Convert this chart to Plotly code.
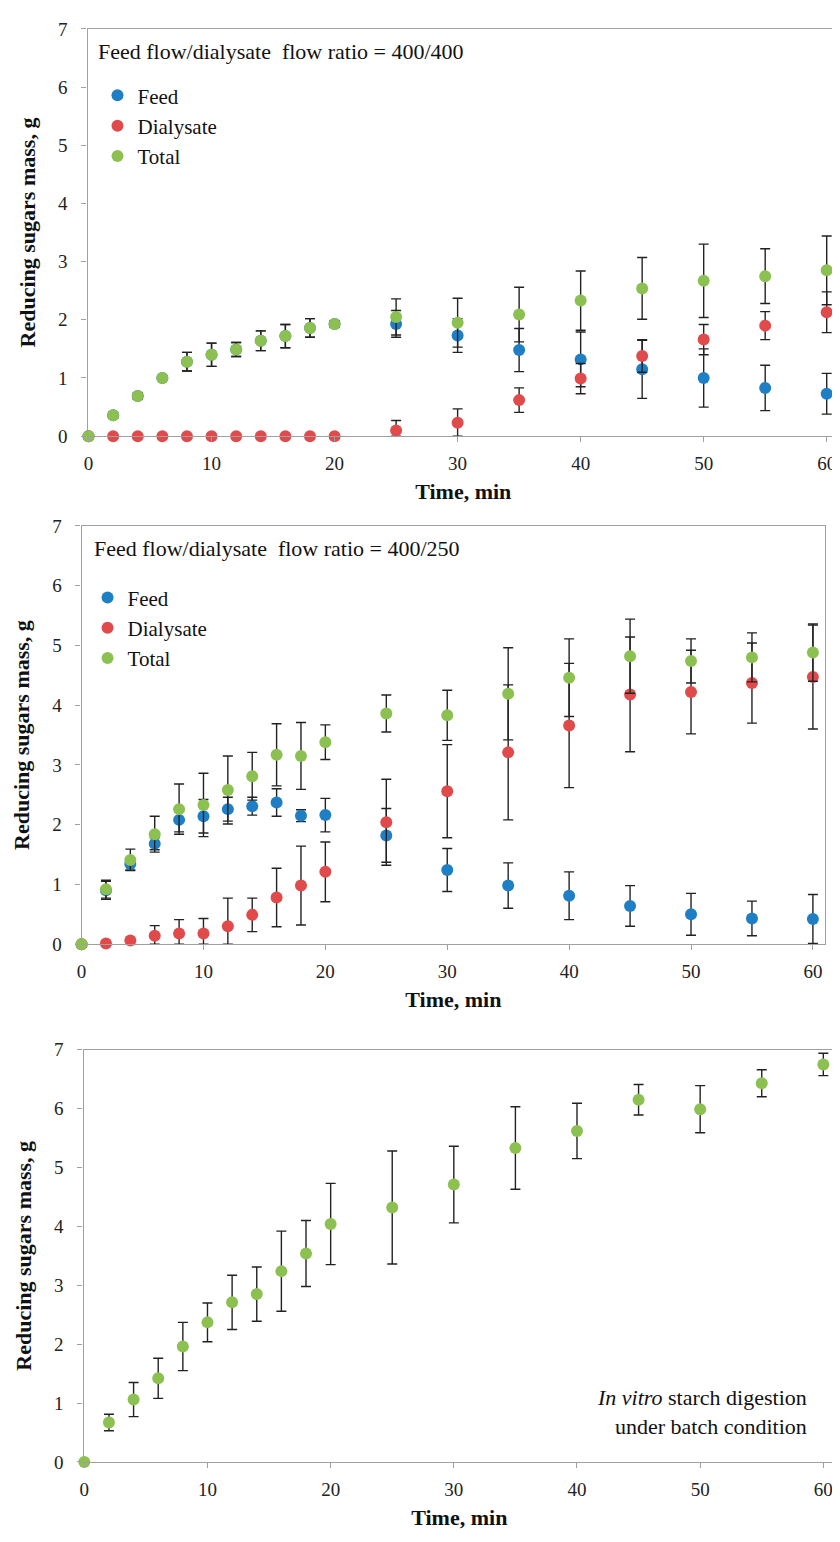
import plotly.graph_objects as go

# ---------------- data ----------------
time_min = [0, 2, 4, 6, 8, 10, 12, 14, 16, 18, 20, 25, 30, 35, 40, 45, 50, 55, 60]

# Panel A: ratio 400/400
a_feed = [0, 0.36, 0.69, 1.00, 1.28, 1.40, 1.49, 1.64, 1.72, 1.86, 1.93, 1.93, 1.73, 1.48, 1.32, 1.15, 1.00, 0.83, 0.73]
a_feed_err = [0, 0.05, 0.05, 0.03, 0.16, 0.20, 0.12, 0.17, 0.20, 0.16, 0.05, 0.23, 0.29, 0.37, 0.47, 0.50, 0.50, 0.39, 0.35]
a_dial = [0, 0, 0, 0, 0, 0, 0, 0, 0, 0, 0, 0.10, 0.23, 0.62, 0.99, 1.38, 1.66, 1.90, 2.13]
a_dial_err = [0, 0, 0, 0, 0, 0, 0, 0, 0, 0, 0, 0.17, 0.24, 0.21, 0.26, 0.28, 0.26, 0.24, 0.35]
a_total = [0, 0.36, 0.69, 1.00, 1.28, 1.40, 1.49, 1.64, 1.72, 1.86, 1.93, 2.05, 1.95, 2.09, 2.33, 2.54, 2.67, 2.75, 2.85]
a_total_err = [0, 0.05, 0.05, 0.03, 0.16, 0.20, 0.12, 0.17, 0.20, 0.16, 0.05, 0.31, 0.42, 0.47, 0.51, 0.53, 0.63, 0.47, 0.59]

# Panel B: ratio 400/250
b_feed = [0, 0.90, 1.34, 1.68, 2.08, 2.14, 2.26, 2.31, 2.37, 2.15, 2.16, 1.82, 1.24, 0.98, 0.81, 0.64, 0.50, 0.43, 0.42]
b_feed_err = [0, 0.15, 0.10, 0.10, 0.20, 0.28, 0.20, 0.15, 0.23, 0.10, 0.28, 0.45, 0.36, 0.38, 0.40, 0.34, 0.35, 0.29, 0.41]
b_dial = [0, 0.01, 0.06, 0.14, 0.18, 0.18, 0.30, 0.49, 0.78, 0.98, 1.21, 2.04, 2.56, 3.21, 3.66, 4.18, 4.22, 4.37, 4.47]
b_dial_err = [0, 0, 0, 0.17, 0.23, 0.25, 0.47, 0.28, 0.49, 0.66, 0.50, 0.72, 0.78, 1.13, 1.04, 0.96, 0.70, 0.67, 0.87]
b_total = [0, 0.92, 1.41, 1.84, 2.26, 2.33, 2.58, 2.81, 3.17, 3.15, 3.38, 3.86, 3.83, 4.19, 4.46, 4.82, 4.74, 4.80, 4.88]
b_total_err = [0, 0.15, 0.18, 0.30, 0.42, 0.53, 0.57, 0.40, 0.52, 0.56, 0.29, 0.31, 0.42, 0.77, 0.65, 0.62, 0.37, 0.41, 0.48]

# Panel C: batch in vitro digestion
c_total = [0, 0.67, 1.06, 1.42, 1.96, 2.37, 2.71, 2.85, 3.24, 3.54, 4.04, 4.32, 4.71, 5.33, 5.62, 6.15, 5.99, 6.43, 6.75]
c_total_err = [0, 0.14, 0.29, 0.34, 0.41, 0.33, 0.46, 0.46, 0.68, 0.56, 0.69, 0.96, 0.65, 0.70, 0.47, 0.26, 0.40, 0.23, 0.19]

x_ticks = [0, 10, 20, 30, 40, 50, 60]
y_ticks = [0, 1, 2, 3, 4, 5, 6, 7]

colors = {"Feed": "#1f7fc4", "Dialysate": "#e04a4a", "Total": "#8cc152"}

FONT = "Liberation Serif, Times New Roman, serif"
# page body has an 8px default margin: figure is sized so it fits the 840x1542 window
OFF = 8
W, H = 840 - OFF, 1542 - OFF


def px(x):
    return (x - OFF) / W


def py(y):
    return 1 - (y - OFF) / H


fig = go.Figure()


def add_series(y, err, name, xa, ya, legend, show):
    minus = [min(e, v) for e, v in zip(err, y)]
    fig.add_trace(go.Scatter(
        x=time_min, y=y, mode="markers", name=name,
        marker=dict(color=colors[name], size=12),
        error_y=dict(type="data", array=err, arrayminus=minus, symmetric=False,
                     color="#222222", thickness=1.4, width=5),
        xaxis=xa, yaxis=ya, legend=legend, showlegend=show, cliponaxis=False,
    ))


for y, e, n in [(a_feed, a_feed_err, "Feed"), (a_dial, a_dial_err, "Dialysate"), (a_total, a_total_err, "Total")]:
    add_series(y, e, n, "x", "y", "legend", True)
for y, e, n in [(b_feed, b_feed_err, "Feed"), (b_dial, b_dial_err, "Dialysate"), (b_total, b_total_err, "Total")]:
    add_series(y, e, n, "x2", "y2", "legend2", True)
add_series(c_total, c_total_err, "Total", "x3", "y3", "legend", False)

# panel geometry in window pixels (left, right, top, bottom)
panels = [(83, 839, 19, 432), (77, 825, 523, 947), (79, 835, 1054, 1472)]
xranges = [[-0.08, 61.0], [0, 61.0], [-0.06, 60.95]]

axis_common = dict(showline=True, linecolor="#a0a0a0", linewidth=1.3, mirror=True,
                   showgrid=False, zeroline=False, ticks="outside", ticklen=5,
                   tickcolor="#a0a0a0", tickfont=dict(family=FONT, size=19, color="#222"))

layout = dict(width=W, height=H, margin=dict(l=0, r=0, t=0, b=0),
              plot_bgcolor="white", paper_bgcolor="white",
              font=dict(family=FONT, color="#111"))

for i, ((l, r, t, b), xr) in enumerate(zip(panels, xranges)):
    sx = "" if i == 0 else str(i + 1)
    layout["xaxis" + sx] = dict(
        axis_common, domain=[px(l), px(r)], range=xr, tickvals=x_ticks,
        anchor="y" + sx, ticklabelstandoff=5,
        title=dict(text="<b>Time, min</b>", font=dict(family=FONT, size=22, color="#111"), standoff=10))
    layout["yaxis" + sx] = dict(
        axis_common, domain=[py(b), py(t)], range=[0, 7], tickvals=y_ticks,
        anchor="x" + sx, ticklabelstandoff=10,
        title=dict(text="<b>Reducing sugars mass, g</b>", font=dict(family=FONT, size=22, color="#111"), standoff=16))

leg_common = dict(font=dict(family=FONT, size=21, color="#111"), bgcolor="rgba(0,0,0,0)",
                  xanchor="left", yanchor="top", tracegroupgap=0, itemwidth=30)
layout["legend"] = dict(leg_common, x=px(93), y=py(66))
layout["legend2"] = dict(leg_common, x=px(83), y=py(575))

layout["annotations"] = [
    dict(text="Feed flow/dialysate  flow ratio = 400/400", xref="paper", yref="paper",
         x=px(92), y=py(42), xanchor="left", yanchor="middle", showarrow=False,
         font=dict(family=FONT, size=22, color="#111")),
    dict(text="Feed flow/dialysate  flow ratio = 400/250", xref="paper", yref="paper",
         x=px(87), y=py(546), xanchor="left", yanchor="middle", showarrow=False,
         font=dict(family=FONT, size=22, color="#111")),
    dict(text="<i>In vitro</i> starch digestion<br>under batch condition", xref="paper", yref="paper",
         x=px(809), y=py(1421), xanchor="right", yanchor="middle", align="right", showarrow=False,
         font=dict(family=FONT, size=22, color="#111")),
]

fig.update_layout(**layout)
fig.write_html("out.html")
